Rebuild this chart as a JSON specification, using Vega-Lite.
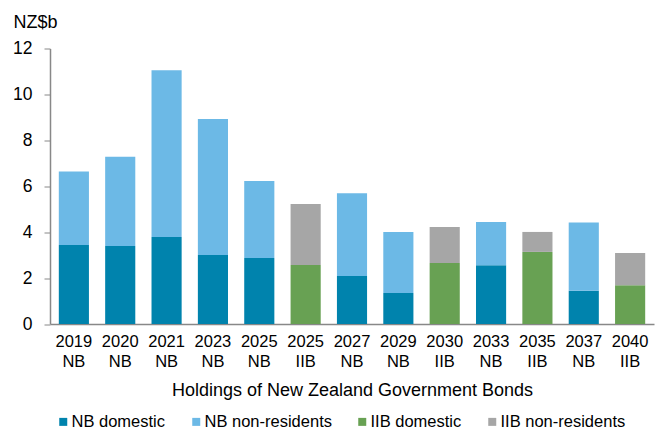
{
  "$schema": "https://vega.github.io/schema/vega-lite/v6.json",
  "width": 604,
  "height": 275.5,
  "autosize": {"type": "none"},
  "padding": {"left": 50, "top": 48.5, "right": 7, "bottom": 108},
  "background": "white",
  "config": {
    "view": {"stroke": null},
    "font": "Liberation Sans",
    "axis": {"labelFont": "Liberation Sans", "titleFont": "Liberation Sans", "labelColor": "#000000", "titleColor": "#000000"},
    "legend": {"labelFont": "Liberation Sans"}
  },
  "data": {
    "values": [
      {"bond": "2019 NB", "holder": "NB domestic", "value": 3.44, "ord": 1},
      {"bond": "2019 NB", "holder": "NB non-residents", "value": 3.20, "ord": 2},
      {"bond": "2020 NB", "holder": "NB domestic", "value": 3.40, "ord": 1},
      {"bond": "2020 NB", "holder": "NB non-residents", "value": 3.88, "ord": 2},
      {"bond": "2021 NB", "holder": "NB domestic", "value": 3.79, "ord": 1},
      {"bond": "2021 NB", "holder": "NB non-residents", "value": 7.26, "ord": 2},
      {"bond": "2023 NB", "holder": "NB domestic", "value": 3.01, "ord": 1},
      {"bond": "2023 NB", "holder": "NB non-residents", "value": 5.92, "ord": 2},
      {"bond": "2025 NB", "holder": "NB domestic", "value": 2.88, "ord": 1},
      {"bond": "2025 NB", "holder": "NB non-residents", "value": 3.35, "ord": 2},
      {"bond": "2025 IIB", "holder": "IIB domestic", "value": 2.57, "ord": 1},
      {"bond": "2025 IIB", "holder": "IIB non-residents", "value": 2.66, "ord": 2},
      {"bond": "2027 NB", "holder": "NB domestic", "value": 2.09, "ord": 1},
      {"bond": "2027 NB", "holder": "NB non-residents", "value": 3.60, "ord": 2},
      {"bond": "2029 NB", "holder": "NB domestic", "value": 1.35, "ord": 1},
      {"bond": "2029 NB", "holder": "NB non-residents", "value": 2.66, "ord": 2},
      {"bond": "2030 IIB", "holder": "IIB domestic", "value": 2.66, "ord": 1},
      {"bond": "2030 IIB", "holder": "IIB non-residents", "value": 1.57, "ord": 2},
      {"bond": "2033 NB", "holder": "NB domestic", "value": 2.56, "ord": 1},
      {"bond": "2033 NB", "holder": "NB non-residents", "value": 1.88, "ord": 2},
      {"bond": "2035 IIB", "holder": "IIB domestic", "value": 3.14, "ord": 1},
      {"bond": "2035 IIB", "holder": "IIB non-residents", "value": 0.87, "ord": 2},
      {"bond": "2037 NB", "holder": "NB domestic", "value": 1.45, "ord": 1},
      {"bond": "2037 NB", "holder": "NB non-residents", "value": 2.97, "ord": 2},
      {"bond": "2040 IIB", "holder": "IIB domestic", "value": 1.69, "ord": 1},
      {"bond": "2040 IIB", "holder": "IIB non-residents", "value": 1.40, "ord": 2}
    ]
  },
  "mark": {"type": "bar"},
  "encoding": {
    "x": {
      "field": "bond",
      "type": "nominal",
      "sort": null,
      "scale": {"paddingInner": 0.35, "paddingOuter": 0.19},
      "axis": {
        "title": "Holdings of New Zealand Government Bonds",
        "titleFontSize": 18,
        "titleFontWeight": "normal",
        "titlePadding": 12,
        "labelExpr": "split(datum.value, ' ')",
        "labelAngle": 0,
        "labelFontSize": 16.5,
        "labelLineHeight": 20,
        "labelPadding": 9,
        "ticks": false,
        "domainColor": "#888888",
        "domainWidth": 1.5,
        "grid": false
      }
    },
    "y": {
      "field": "value",
      "type": "quantitative",
      "stack": "zero",
      "scale": {"domain": [0, 12], "nice": false},
      "axis": {
        "title": "NZ$b",
        "titleAngle": 0,
        "titleAlign": "left",
        "titleBaseline": "alphabetic",
        "titleX": -37,
        "titleY": -21.5,
        "titleFontSize": 18,
        "titleFontWeight": "normal",
        "values": [0, 2, 4, 6, 8, 10, 12],
        "labelFontSize": 17.5,
        "labelPadding": 12,
        "tickSize": 6,
        "tickColor": "#888888",
        "domainColor": "#888888",
        "domainWidth": 1.5,
        "grid": false
      }
    },
    "color": {
      "field": "holder",
      "type": "nominal",
      "scale": {
        "domain": ["NB domestic", "NB non-residents", "IIB domestic", "IIB non-residents"],
        "range": ["#0083AD", "#6CB9E6", "#68A153", "#A6A6A6"]
      },
      "legend": {
        "title": null,
        "orient": "none",
        "direction": "horizontal",
        "legendX": 5,
        "legendY": 365,
        "symbolType": "square",
        "symbolSize": 64,
        "symbolStrokeWidth": 0,
        "labelFontSize": 16.5,
        "labelColor": "#000000",
        "labelOffset": 0,
        "columnPadding": 22,
        "labelLimit": 300
      }
    },
    "order": {"field": "ord", "type": "quantitative"}
  }
}
